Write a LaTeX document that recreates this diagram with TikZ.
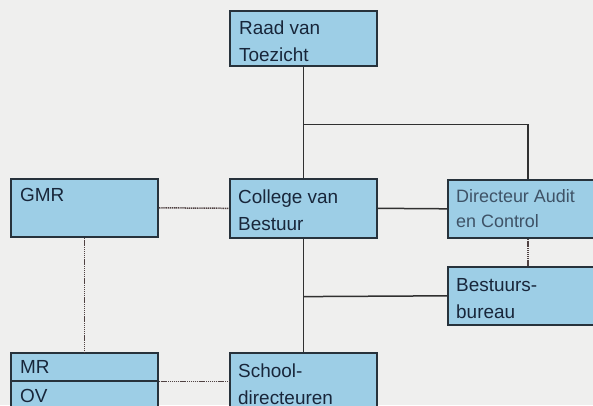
\documentclass[tikz,border=0pt]{standalone}
\usepackage{fontspec}
\setmainfont{Liberation Sans}
\definecolor{bgcol}{HTML}{EFEFEE}
\definecolor{boxfill}{HTML}{9DCEE6}
\definecolor{boxline}{HTML}{27323B}
\definecolor{txtcol}{HTML}{18263A}
\definecolor{faintcol}{HTML}{3E5266}
\definecolor{lncol}{HTML}{303030}
\definecolor{dotcol}{HTML}{504242}
\begin{document}
\begin{tikzpicture}[x=1bp,y=-1bp,
  box/.style={draw=boxline, fill=boxfill, line width=1.6bp, rectangle, inner sep=0pt, anchor=north west, minimum width=147bp, minimum height=58bp},
  lbl/.style={anchor=base west, inner sep=0pt, text=txtcol, font=\fontsize{19}{27.5}\selectfont},
  conn/.style={draw=lncol, line width=1.5bp},
  dots/.style={draw=dotcol, line width=1.5bp, dash pattern=on 1.2bp off 0.7bp}]
\useasboundingbox (0,0) rectangle (593,405);
\clip (0,0) rectangle (593,405);
\fill[bgcol] (0,0) rectangle (593,405);

% boxes
\node[box, minimum height=55bp] (rvt) at (229,10) {};
\node[box, minimum height=59bp] (cvb) at (229,178) {};
\node[box, minimum width=160bp] (dac) at (447,179) {};
\node[box, minimum width=160bp] (bsb) at (447,266) {};
\node[box] (gmr) at (10,178) {};
\node[box, minimum height=28bp] (mr) at (10,352) {};
\node[box, minimum height=36bp] (ov) at (10,380) {};
\node[box, minimum height=62bp] (sd) at (229,352) {};

% texts
\node[lbl] (trvt) at ([shift={(10,24)}]rvt.north west) {\parbox[t]{130bp}{Raad van\\Toezicht}};
\node[lbl] (tcvb) at ([shift={(9,25)}]cvb.north west) {\parbox[t]{130bp}{College van\\Bestuur}};
\node[lbl, text=faintcol, font=\fontsize{18}{26}\selectfont] (tdac) at ([shift={(9,23)}]dac.north west) {\parbox[t]{140bp}{Directeur Audit\\en Control}};
\node[lbl] (tbsb) at ([shift={(9,25)}]bsb.north west) {\parbox[t]{140bp}{Bestuurs-\\bureau}};
\node[lbl] (tgmr) at ([shift={(10,23)}]gmr.north west) {GMR};
\node[lbl] (tmr) at ([shift={(10,21)}]mr.north west) {MR};
\node[lbl] (tov) at ([shift={(10,22)}]ov.north west) {OV};
\node[lbl] (tsd) at ([shift={(9,25)}]sd.north west) {\parbox[t]{130bp}{School-\\directeuren}};

% junctions
\path (rvt.south) ++(0,58) coordinate (j1);
\path (cvb.south) ++(0,58) coordinate (j2);

% solid connectors
\draw[conn] (rvt.south) -- (cvb.north);
\draw[conn] (j1) -| (dac.north);
\draw[conn] (cvb.east) -- (dac.west);
\draw[conn] (cvb.south) -- (sd.north);
\draw[conn] (j2) -- (bsb.west);

% dotted connectors
\draw[dots] (dac.south) -- (bsb.north);
\draw[dots] (gmr.east) -- (cvb.west);
\draw[dots] (gmr.south) -- (mr.north);
\draw[dots] (mr.south east) -- (mr.south east -| sd.west);
\end{tikzpicture}
\end{document}
